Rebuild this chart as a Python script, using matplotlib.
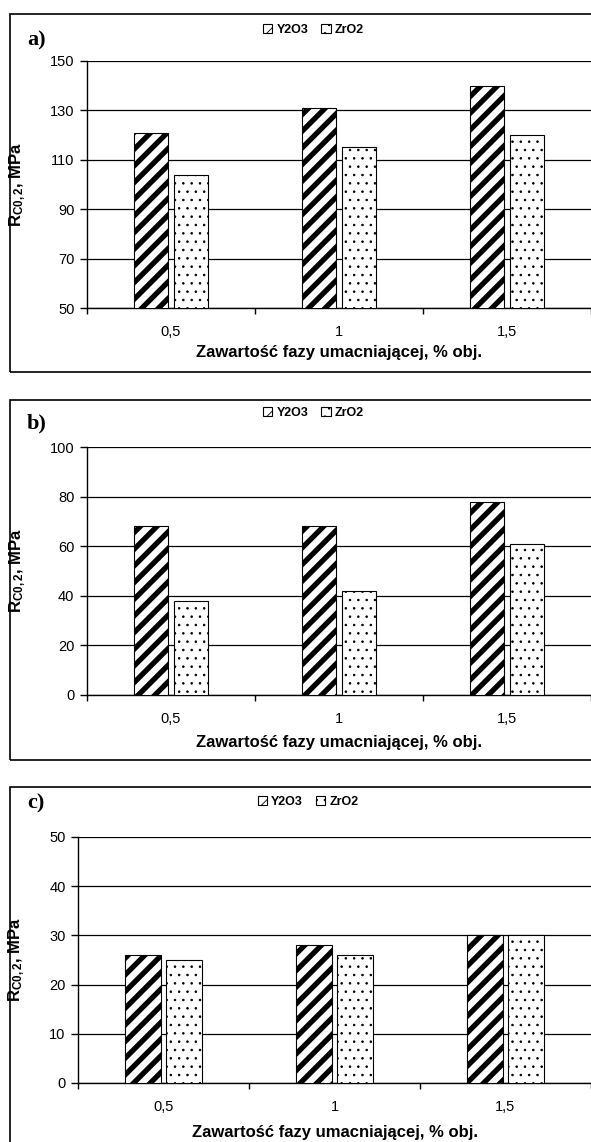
import numpy as np
import matplotlib.pyplot as plt
from matplotlib.patches import Rectangle

# data
categories = ['0,5', '1', '1,5']
series = ['Y2O3', 'ZrO2']

y2o3_a = [121, 131, 140]
zro2_a = [104, 115, 120]
y2o3_b = [68, 68, 78]
zro2_b = [38, 42, 61]
y2o3_c = [26, 28, 30]
zro2_c = [25, 26, 30]

ticks_a = [50, 70, 90, 110, 130, 150]
ticks_b = [0, 20, 40, 60, 80, 100]
ticks_c = [0, 10, 20, 30, 40, 50]

xlabel = 'Zawartość fazy umacniającej, % obj.'
ylabel = r'R$_{\mathrm{C0,2}}$, MPa'

plt.rcParams['font.family'] = ['Liberation Sans', 'DejaVu Sans']
plt.rcParams['mathtext.fontset'] = 'custom'
plt.rcParams['mathtext.rm'] = 'Liberation Sans:bold'
plt.rcParams['mathtext.it'] = 'Liberation Sans:bold'
plt.rcParams['mathtext.bf'] = 'Liberation Sans:bold'
plt.rcParams['hatch.color'] = 'black'

W, H = 591, 1142
fig = plt.figure(figsize=(W / 100, H / 100), dpi=100)


def px_axes(x0, y0, x1, y1):
    return fig.add_axes([x0 / W, 1 - y1 / H, (x1 - x0) / W, (y1 - y0) / H])


def fy(y):
    return 1 - y / H


def hatch_lw(bars, lw):
    for b in bars:
        if hasattr(b, 'set_hatch_linewidth'):
            b.set_hatch_linewidth(lw)


# label, values, ticks, axes box (px), frame box (px), label y, legend (x, y), xlabel y
panels = [
    ('a)', y2o3_a, zro2_a, ticks_a, (87, 61, 591, 308), (10, 14, 640, 372), 40, (313.5, 30), 352),
    ('b)', y2o3_b, zro2_b, ticks_b, (87, 447, 591, 695), (10, 400, 640, 760), 423, (313.5, 413), 742),
    ('c)', y2o3_c, zro2_c, ticks_c, (78, 837, 591, 1083), (10, 787, 640, 1200), 803, (308, 802), 1132),
]

x = np.arange(len(categories))
bw = 0.205
off = 0.12

for lab, yv, zv, ticks, abox, fbox, laby, legxy, xly in panels:
    # outer frame
    fig.patches.append(Rectangle((fbox[0] / W, fy(fbox[3])), (fbox[2] - fbox[0]) / W,
                                 (fbox[3] - fbox[1]) / H, transform=fig.transFigure,
                                 fill=False, edgecolor='black', linewidth=1.2, zorder=0))
    ax = px_axes(*abox)
    plt.rcParams['hatch.linewidth'] = 3.8
    b1 = ax.bar(x - off, yv, bw, color='white', edgecolor='black', hatch='//',
                linewidth=0.8, label=series[0], zorder=3)
    hatch_lw(b1, 3.8)
    plt.rcParams['hatch.linewidth'] = 0.6
    b2 = ax.bar(x + off, zv, bw, color='white', edgecolor='black', hatch='..',
                linewidth=0.8, label=series[1], zorder=3)
    hatch_lw(b2, 0.6)
    ax.set_ylim(ticks[0], ticks[-1])
    ax.set_xlim(-0.5, len(categories) - 0.5)
    ax.set_yticks(ticks)
    ax.set_yticklabels([str(t) for t in ticks], fontsize=10.5)
    ax.yaxis.grid(True, color='black', linewidth=0.9)
    ax.set_axisbelow(True)
    ax.set_xticks(x)
    ax.set_xticklabels(categories, fontsize=10.5)
    ax.set_xticks(np.arange(-0.5, len(categories), 1.0), minor=True)
    ax.tick_params(axis='x', which='major', length=0, pad=12)
    ax.tick_params(axis='x', which='minor', length=4, width=1, direction='out')
    ax.tick_params(axis='y', length=5, width=1, direction='out', pad=4)
    for s in ['top', 'right']:
        ax.spines[s].set_visible(False)
    for s in ['left', 'bottom']:
        ax.spines[s].set_linewidth(1.0)

    ax.set_ylabel(ylabel, fontsize=12, fontweight='bold', labelpad=16)
    fig.text((abox[0] + abox[2]) / 2 / W, fy(xly), xlabel, fontsize=12,
             fontweight='bold', ha='center', va='center')
    fig.text(27 / W, fy(laby), lab, fontsize=16, fontweight='bold',
             family='Liberation Serif', ha='left', va='center')
    ax.legend(loc='center', bbox_to_anchor=(legxy[0] / W, fy(legxy[1])),
              bbox_transform=fig.transFigure,
              ncol=2, frameon=False, prop={'size': 9, 'weight': 'bold'},
              handlelength=0.75, handleheight=0.75, columnspacing=1.0, handletextpad=0.35,
              borderpad=0)

fig.savefig('out.png', dpi=100)
